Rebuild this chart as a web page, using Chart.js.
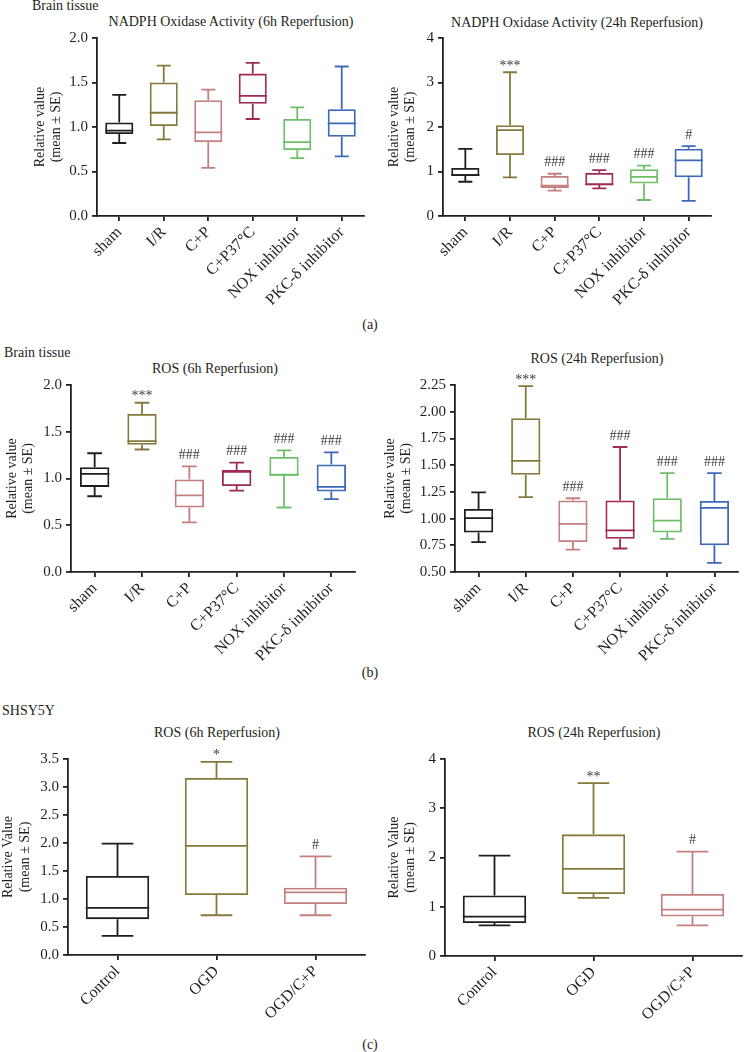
<!DOCTYPE html>
<html>
<head>
<meta charset="utf-8">
<script src="https://cdn.jsdelivr.net/npm/chart.js@4.4.1/dist/chart.umd.min.js"></script>
<style>
body { margin: 0; background: #fff; width: 744px; height: 1052px; position: relative; overflow: hidden; font-family: "Liberation Serif", serif; color: #231f20; }
canvas { position: absolute; }
.t { position: absolute; font-size: 14px; white-space: nowrap; line-height: 1; }
.c { transform: translate(-50%, -50%); }
.e { transform: translateY(-50%); }
</style>
</head>
<body>
<div class="t e" style="left:32px;top:6px">Brain tissue</div>
<div class="t c" style="left:231px;top:22px">NADPH Oxidase Activity (6h Reperfusion)</div>
<div class="t c" style="left:577px;top:23px">NADPH Oxidase Activity (24h Reperfusion)</div>
<div class="t c" style="left:370px;top:325px">(a)</div>
<div class="t e" style="left:4px;top:353px">Brain tissue</div>
<div class="t c" style="left:215px;top:369px">ROS (6h Reperfusion)</div>
<div class="t c" style="left:597px;top:359px">ROS (24h Reperfusion)</div>
<div class="t c" style="left:370px;top:673px">(b)</div>
<div class="t e" style="left:2px;top:711px">SHSY5Y</div>
<div class="t c" style="left:217px;top:733px">ROS (6h Reperfusion)</div>
<div class="t c" style="left:594px;top:733px">ROS (24h Reperfusion)</div>
<div class="t c" style="left:370px;top:1045px">(c)</div>

<canvas id="a6"></canvas>
<canvas id="a24"></canvas>
<canvas id="b6"></canvas>
<canvas id="b24"></canvas>
<canvas id="c6"></canvas>
<canvas id="c24"></canvas>

<script>
// ==========================
// DADOS
// ==========================
const grupos = ["sham", "I/R", "C+P", "C+P37°C", "NOX inhibitor", "PKC-δ inhibitor"];
const gruposCelula = ["Control", "OGD", "OGD/C+P"];

const coresGrupos = ["#1e1e1e", "#857a3c", "#c4807f", "#9e2a55", "#6fbf6a", "#3e68b8"];
const coresCelula = ["#1e1e1e", "#857a3c", "#c4807f"];

// (a) NADPH oxidase 6h
const nadph6Min = [0.82, 0.86, 0.54, 1.09, 0.65, 0.67];
const nadph6Q1  = [0.92, 1.01, 0.83, 1.26, 0.74, 0.89];
const nadph6Med = [0.96, 1.16, 0.94, 1.35, 0.83, 1.04];
const nadph6Q3  = [1.05, 1.50, 1.30, 1.60, 1.09, 1.20];
const nadph6Max = [1.36, 1.69, 1.42, 1.72, 1.22, 1.68];
const nadph6Sig = ["", "", "", "", "", ""];
const nadph6Ticks = [0, 0.5, 1, 1.5, 2];

// (a) NADPH oxidase 24h
const nadph24Min = [0.77, 0.87, 0.57, 0.62, 0.36, 0.34];
const nadph24Q1  = [0.90, 1.37, 0.63, 0.69, 0.73, 0.87];
const nadph24Med = [0.92, 1.93, 0.68, 0.71, 0.88, 1.25];
const nadph24Q3  = [1.08, 2.04, 0.90, 0.97, 1.05, 1.51];
const nadph24Max = [1.51, 3.23, 0.95, 1.03, 1.13, 1.57];
const nadph24Sig = ["", "***", "###", "###", "###", "#"];
const nadph24Ticks = [0, 1, 2, 3, 4];

// (b) ROS 6h
const ros6Min = [0.81, 1.31, 0.53, 0.87, 0.69, 0.78];
const ros6Q1  = [0.91, 1.36, 0.69, 0.92, 1.03, 0.86];
const ros6Med = [1.05, 1.40, 0.82, 1.07, 1.04, 0.91];
const ros6Q3  = [1.12, 1.69, 0.99, 1.09, 1.23, 1.15];
const ros6Max = [1.27, 1.81, 1.13, 1.17, 1.30, 1.28];
const ros6Sig = ["", "***", "###", "###", "###", "###"];
const ros6Ticks = [0, 0.5, 1, 1.5, 2];

// (b) ROS 24h
const ros24Min = [0.78, 1.20, 0.71, 0.72, 0.81, 0.585];
const ros24Q1  = [0.87, 1.41, 0.78, 0.81, 0.87, 0.75];
const ros24Med = [1.005, 1.54, 0.95, 0.89, 0.98, 1.10];
const ros24Q3  = [1.09, 1.94, 1.17, 1.17, 1.19, 1.165];
const ros24Max = [1.245, 2.24, 1.19, 1.67, 1.425, 1.425];
const ros24Sig = ["", "***", "###", "###", "###", "###"];
const ros24Ticks = [0.5, 0.75, 1, 1.25, 1.5, 1.75, 2, 2.25];

// (c) SHSY5Y ROS 6h
const cel6Min = [0.34, 0.71, 0.71];
const cel6Q1  = [0.64, 1.07, 0.91];
const cel6Med = [0.84, 1.95, 1.12];
const cel6Q3  = [1.41, 3.16, 1.20];
const cel6Max = [1.99, 3.45, 1.76];
const cel6Sig = ["", "*", "#"];
const cel6Ticks = [0, 0.5, 1, 1.5, 2, 2.5, 3, 3.5];

// (c) SHSY5Y ROS 24h
const cel24Min = [0.62, 1.18, 0.62];
const cel24Q1  = [0.67, 1.26, 0.80];
const cel24Med = [0.80, 1.77, 0.94];
const cel24Q3  = [1.23, 2.47, 1.26];
const cel24Max = [2.04, 3.51, 2.12];
const cel24Sig = ["", "**", "#"];
const cel24Ticks = [0, 1, 2, 3, 4];

const TINTA = "#231f20";
const FONTE = "Liberation Serif";

// ==========================
// BIGODES, MEDIANA E SIGNIFICANCIA
// ==========================
function fazerBigodes(d) {
    return {
        id: "bigodes",
        afterDatasetsDraw(chart) {
            const ctx = chart.ctx;
            const y = chart.scales.y;
            const meta = chart.getDatasetMeta(0);
            const py = v => y.getPixelForValue(v);

            ctx.save();
            ctx.lineWidth = 1.8;
            d.med.forEach((m, i) => {
                const bar = meta.data[i];
                const cx = bar.x;
                const w = bar.width;
                ctx.strokeStyle = d.cores[i];
                ctx.beginPath();
                ctx.moveTo(cx - w / 2, py(m));
                ctx.lineTo(cx + w / 2, py(m));
                ctx.moveTo(cx, py(d.q3[i]));
                ctx.lineTo(cx, py(d.max[i]));
                ctx.moveTo(cx - w / 4, py(d.max[i]));
                ctx.lineTo(cx + w / 4, py(d.max[i]));
                ctx.moveTo(cx, py(d.q1[i]));
                ctx.lineTo(cx, py(d.min[i]));
                ctx.moveTo(cx - w / 4, py(d.min[i]));
                ctx.lineTo(cx + w / 4, py(d.min[i]));
                ctx.stroke();

                const s = d.sig[i];
                if (s) {
                    ctx.fillStyle = "#3a3a3a";
                    ctx.font = "14px " + FONTE;
                    ctx.textAlign = "center";
                    ctx.textBaseline = "middle";
                    const sobe = s.includes("*") ? 6 : 11;
                    ctx.fillText(s, cx, py(d.max[i]) - sobe);
                }
            });
            ctx.restore();
        }
    };
}

// ==========================
// PAINEL
// ==========================
function criarPainel(id, p) {
    const [cx, cy, cw, ch] = p.caixa;
    const [al, ar, at, ab] = p.area;

    const canvas = document.getElementById(id);
    canvas.width = cw;
    canvas.height = ch;
    canvas.style.left = cx + "px";
    canvas.style.top = cy + "px";

    const padLeft = Math.max(p.linhaTitulo - 8.4 - cx, 0);
    const larguraY = al - cx - padLeft;
    const alturaX = cy + ch - ab;

    const eixo = {
        display: true,
        drawOnChartArea: false,
        drawTicks: true,
        tickLength: 5,
        color: TINTA,
        lineWidth: 1.8,
        offset: false
    };

    new Chart(canvas, {
        type: "bar",
        data: {
            labels: p.categorias,
            datasets: [{
                data: p.q1.map((v, i) => [v, p.q3[i]]),
                backgroundColor: "rgba(0,0,0,0)",
                borderColor: p.cores,
                borderWidth: 1.8,
                borderSkipped: false,
                categoryPercentage: 1,
                barPercentage: p.barra
            }]
        },
        options: {
            responsive: false,
            animation: false,
            layout: {
                padding: { left: padLeft, right: cx + cw - ar, top: at - cy, bottom: 0 }
            },
            plugins: {
                legend: { display: false },
                tooltip: { enabled: false }
            },
            scales: {
                x: {
                    type: "category",
                    offset: true,
                    afterFit: s => { s.height = alturaX; },
                    grid: eixo,
                    border: { display: true, color: TINTA, width: 1.8 },
                    ticks: {
                        color: TINTA,
                        font: { family: FONTE, size: 16 },
                        minRotation: 45,
                        maxRotation: 45,
                        autoSkip: false,
                        padding: 2
                    }
                },
                y: {
                    min: p.ticks[0],
                    max: p.ticks[p.ticks.length - 1],
                    afterFit: s => { s.width = larguraY; },
                    afterBuildTicks: s => { s.ticks = p.ticks.map(v => ({ value: v })); },
                    grid: eixo,
                    border: { display: true, color: TINTA, width: 1.8 },
                    ticks: {
                        color: TINTA,
                        font: { family: FONTE, size: 15 },
                        padding: 4,
                        callback: v => Number(v).toFixed(p.casas)
                    },
                    title: {
                        display: true,
                        text: p.tituloY,
                        color: TINTA,
                        font: { family: FONTE, size: 14, lineHeight: 1.2 },
                        padding: 0
                    }
                }
            }
        },
        plugins: [fazerBigodes({
            min: p.min, q1: p.q1, med: p.med, q3: p.q3, max: p.max, sig: p.sig, cores: p.cores
        })]
    });
}

const tituloTecido = ["Relative value", "(mean ± SE)"];
const tituloCelula = ["Relative Value", "(mean ± SE)"];

document.addEventListener("DOMContentLoaded", () => {
    criarPainel("a6", {
        caixa: [0, 25, 372, 290], area: [97, 364, 37, 216], linhaTitulo: 40,
        categorias: grupos, cores: coresGrupos, barra: 0.63, casas: 1, tituloY: tituloTecido,
        min: nadph6Min, q1: nadph6Q1, med: nadph6Med, q3: nadph6Q3, max: nadph6Max, sig: nadph6Sig, ticks: nadph6Ticks
    });
    criarPainel("a24", {
        caixa: [372, 25, 372, 290], area: [443, 711, 37, 216], linhaTitulo: 394,
        categorias: grupos, cores: coresGrupos, barra: 0.63, casas: 0, tituloY: tituloTecido,
        min: nadph24Min, q1: nadph24Q1, med: nadph24Med, q3: nadph24Q3, max: nadph24Max, sig: nadph24Sig, ticks: nadph24Ticks
    });
    criarPainel("b6", {
        caixa: [0, 372, 372, 290], area: [71, 355, 384, 572], linhaTitulo: 12,
        categorias: grupos, cores: coresGrupos, barra: 0.62, casas: 1, tituloY: tituloTecido,
        min: ros6Min, q1: ros6Q1, med: ros6Med, q3: ros6Q3, max: ros6Max, sig: ros6Sig, ticks: ros6Ticks
    });
    criarPainel("b24", {
        caixa: [372, 372, 372, 290], area: [455, 738, 384, 572], linhaTitulo: 390,
        categorias: grupos, cores: coresGrupos, barra: 0.62, casas: 2, tituloY: tituloTecido,
        min: ros24Min, q1: ros24Q1, med: ros24Med, q3: ros24Q3, max: ros24Max, sig: ros24Sig, ticks: ros24Ticks
    });
    criarPainel("c6", {
        caixa: [0, 746, 372, 290], area: [68, 365, 758, 955], linhaTitulo: 8.5,
        categorias: gruposCelula, cores: coresCelula, barra: 0.64, casas: 1, tituloY: tituloCelula,
        min: cel6Min, q1: cel6Q1, med: cel6Med, q3: cel6Q3, max: cel6Max, sig: cel6Sig, ticks: cel6Ticks
    });
    criarPainel("c24", {
        caixa: [372, 746, 372, 290], area: [445, 742, 758, 956], linhaTitulo: 394,
        categorias: gruposCelula, cores: coresCelula, barra: 0.64, casas: 0, tituloY: tituloCelula,
        min: cel24Min, q1: cel24Q1, med: cel24Med, q3: cel24Q3, max: cel24Max, sig: cel24Sig, ticks: cel24Ticks
    });
});
</script>
</body>
</html>
